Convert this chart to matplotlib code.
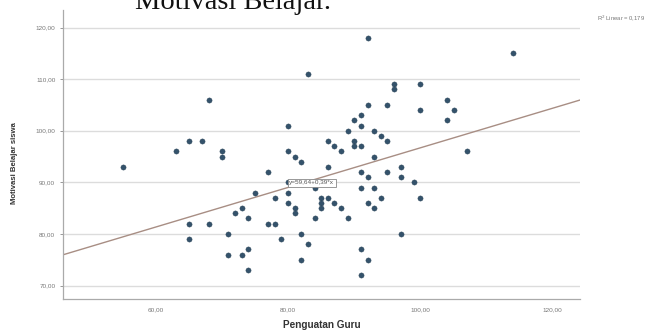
import matplotlib
matplotlib.use("Agg")
import matplotlib.pyplot as plt
import numpy as np

# Data (Penguatan Guru vs Motivasi Belajar siswa)
penguatan_guru = [55, 63, 65, 67, 68, 70, 70, 65, 68, 65, 71, 71, 72, 73, 73, 74, 74, 74,
                  75, 77, 77, 78, 78, 79, 80, 80, 80, 80, 80, 81, 81, 81, 82, 82, 82, 83,
                  83, 84, 84, 85, 85, 85, 86, 86, 86, 87, 87, 88, 88, 89, 89, 90, 90, 90,
                  91, 91, 91, 91, 91, 91, 91, 92, 92, 92, 92, 92, 93, 93, 93, 93, 94, 94,
                  95, 95, 95, 96, 96, 97, 97, 97, 99, 100, 100, 100, 104, 104, 105, 107, 114]
motivasi_belajar = [93, 96, 98, 98, 106, 96, 95, 82, 82, 79, 80, 76, 84, 85, 76, 83, 77, 73,
                    88, 92, 82, 82, 87, 79, 101, 96, 90, 88, 86, 95, 85, 84, 94, 80, 75, 111,
                    78, 89, 83, 87, 86, 85, 98, 93, 87, 97, 86, 96, 85, 100, 83, 102, 98, 97,
                    103, 101, 97, 92, 89, 77, 72, 118, 105, 91, 86, 75, 100, 95, 89, 85, 99, 87,
                    105, 98, 92, 109, 108, 93, 91, 80, 90, 109, 104, 87, 106, 102, 104, 96, 115]

fit_intercept = 58.3
fit_slope = 0.384
equation_label = "y=59,64+0,39*x"
r2_label = "R$^2$ Linear = 0,179"

x_ticks = [60, 80, 100, 120]
x_tick_labels = ["60,00", "80,00", "100,00", "120,00"]
y_ticks = [70, 80, 90, 100, 110, 120]
y_tick_labels = ["70,00", "80,00", "90,00", "100,00", "110,00", "120,00"]

W, H = 653, 331
fig = plt.figure(figsize=(W / 100, H / 100), dpi=100)
ax = fig.add_axes([63 / W, 1 - 299 / H, (580 - 63) / W, (299 - 10) / H])

xlim = (46.0, 124.1)
ylim = (67.4, 123.4)
ax.set_xlim(*xlim)
ax.set_ylim(*ylim)

# gridlines
for yv in y_ticks:
    ax.axhline(yv, color="#dcdcdc", lw=1.0, zorder=0)

# fit line
xs = np.array(xlim)
ax.plot(xs, fit_intercept + fit_slope * xs, color="#a88e84", lw=1.0, zorder=2)

# points
ax.scatter(penguatan_guru, motivasi_belajar, s=14, color="#34526b",
           edgecolors="#2b4458", linewidths=0.3, zorder=3)

# equation box
x_anchor = 80
ax.text(x_anchor + 0.2, fit_intercept + fit_slope * x_anchor + 0.4, equation_label,
        fontsize=4.6, color="#555555", family="Liberation Sans", ha="left", va="bottom",
        bbox=dict(boxstyle="square,pad=0.25", fc="white", ec="#888888", lw=0.6), zorder=4)

for s in ["top", "right"]:
    ax.spines[s].set_visible(False)
for s in ["left", "bottom"]:
    ax.spines[s].set_color("#aaaaaa")
    ax.spines[s].set_linewidth(0.9)

ax.set_xticks(x_ticks)
ax.set_xticklabels(x_tick_labels)
ax.set_yticks(y_ticks)
ax.set_yticklabels(y_tick_labels)
ax.tick_params(axis="both", labelsize=4.6, colors="#888888", length=2, width=0.6)
ax.tick_params(axis="x", length=0, pad=6)
for lab in ax.get_xticklabels() + ax.get_yticklabels():
    lab.set_family("Liberation Sans")
    lab.set_color("#777777")

fig.text(322 / W, 1 - 325 / H, "Penguatan Guru", fontsize=7.2, fontweight="bold",
         family="Liberation Sans", color="#333333", ha="center", va="center")
fig.text(15 / W, 1 - 163 / H, "Motivasi Belajar siswa", fontsize=5.6, fontweight="bold",
         family="Liberation Sans", color="#333333", ha="center", va="center", rotation=90)
fig.text(645 / W, 1 - 18 / H, r2_label, fontsize=4.2, family="Liberation Sans",
         color="#777777", ha="right", va="center")
fig.text(135 / W, 1 - 9 / H, "Motivasi Belajar.", fontsize=20.5, family="Liberation Serif",
         color="#111111", ha="left", va="baseline")

fig.savefig("out.png", dpi=100, facecolor="white")
